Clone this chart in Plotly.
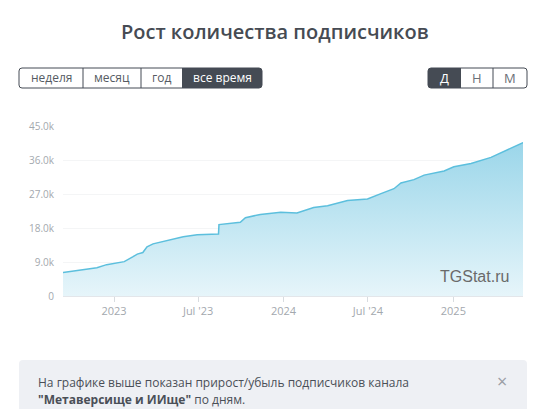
import plotly.graph_objects as go

# ---- data ----
dates = [
    "2022-09-13", "2022-11-25", "2022-12-16", "2023-01-14", "2023-01-23",
    "2023-02-11", "2023-02-20", "2023-03-04", "2023-03-13", "2023-03-26",
    "2023-04-17", "2023-05-30", "2023-06-29", "2023-08-14", "2023-08-15",
    "2023-09-30", "2023-10-11", "2023-11-12", "2023-12-26", "2024-01-30",
    "2024-03-06", "2024-04-05", "2024-05-18", "2024-06-30", "2024-07-29",
    "2024-08-26", "2024-09-10", "2024-10-08", "2024-10-30", "2024-12-12",
    "2025-01-02", "2025-02-08", "2025-03-23", "2025-04-20", "2025-05-31",
]
subscribers = [
    6200, 7500, 8300, 8800, 9100,
    10400, 11100, 11500, 13000, 13800,
    14400, 15700, 16200, 16400, 18900,
    19500, 20700, 21600, 22200, 22000,
    23400, 23900, 25300, 25700, 27100,
    28400, 29900, 30800, 32000, 33100,
    34200, 35100, 36700, 38200, 40600,
]
x_tick_vals = ["2023-01-01", "2023-07-01", "2024-01-01", "2024-07-01", "2025-01-01"]
x_tick_text = ["2023", "Jul '23", "2024", "Jul '24", "2025"]
y_tick_vals = [0, 9000, 18000, 27000, 36000, 45000]
y_tick_text = ["0", "9.0k", "18.0k", "27.0k", "36.0k", "45.0k"]
period_buttons = ["неделя", "месяц", "год", "все время"]
scale_buttons = ["Д", "Н", "М"]

# ---- layout geometry (pixels) ----
W, H = 541, 409
L, R, T, B = 63, 18, 126, 113
PW, PH = W - L - R, H - T - B
FONT = "Open Sans"


def px(x):
    return (x - L) / PW


def py(y):
    return (H - B - y) / PH


def rrect(x0, y0, x1, y1, r=3, tl=True, tr=True, br=True, bl=True):
    rx, ry = r / PW, r / PH
    X0, X1 = px(x0), px(x1)
    Y0, Y1 = py(y0), py(y1)  # Y0 top, Y1 bottom
    p = []
    p.append(f"M{X0 + (rx if tl else 0)},{Y0}")
    p.append(f"L{X1 - (rx if tr else 0)},{Y0}")
    if tr:
        p.append(f"Q{X1},{Y0} {X1},{Y0 - ry}")
    p.append(f"L{X1},{Y1 + (ry if br else 0)}")
    if br:
        p.append(f"Q{X1},{Y1} {X1 - rx},{Y1}")
    p.append(f"L{X0 + (rx if bl else 0)},{Y1}")
    if bl:
        p.append(f"Q{X0},{Y1} {X0},{Y1 + ry}")
    p.append(f"L{X0},{Y0 - (ry if tl else 0)}")
    if tl:
        p.append(f"Q{X0},{Y0} {X0 + rx},{Y0}")
    p.append("Z")
    return " ".join(p)


fig = go.Figure()
fig.add_trace(go.Scatter(
    x=dates, y=subscribers, mode="lines",
    line=dict(color="#5cbfdd", width=1.5),
    fill="tozeroy",
    fillgradient=dict(type="vertical",
                      colorscale=[[0, "#e6f5fa"], [1, "#98d5e9"]],
                      start=0, stop=42000),
    hoverinfo="skip", showlegend=False,
))

shapes = []
annotations = []

# title
annotations.append(dict(text="Рост количества подписчиков", x=px(275), y=py(31),
                        xref="paper", yref="paper", showarrow=False,
                        xanchor="center", yanchor="middle",
                        font=dict(family=FONT, size=20, color="#464b53", weight=600)))

# period buttons
edges = [19, 83, 141, 182, 262]
active = 3
for i, lab in enumerate(period_buttons):
    x0, x1 = edges[i], edges[i + 1]
    if i == active:
        shapes.append(dict(type="path", xref="paper", yref="paper",
                           path=rrect(x0, 68, x1, 88, 3, tl=False, bl=False),
                           fillcolor="#454b54", line=dict(width=0)))
    annotations.append(dict(text=lab, x=px((x0 + x1) / 2), y=py(78), xref="paper", yref="paper",
                            showarrow=False, xanchor="center", yanchor="middle",
                            font=dict(family=FONT, size=12,
                                      color="#ffffff" if i == active else "#555b63")))
shapes.append(dict(type="path", xref="paper", yref="paper", path=rrect(19, 68, 262, 88, 3),
                   fillcolor="rgba(0,0,0,0)", line=dict(color="#454b54", width=1)))
for e in edges[1:3]:
    shapes.append(dict(type="line", xref="paper", yref="paper", x0=px(e), x1=px(e),
                       y0=py(68), y1=py(88), line=dict(color="#454b54", width=1)))

# scale buttons
edges2 = [428, 461, 493, 527]
for i, lab in enumerate(scale_buttons):
    x0, x1 = edges2[i], edges2[i + 1]
    if i == 0:
        shapes.append(dict(type="path", xref="paper", yref="paper",
                           path=rrect(x0, 68, x1, 88, 3, tr=False, br=False),
                           fillcolor="#454b54", line=dict(width=0)))
    annotations.append(dict(text=lab, x=px((x0 + x1) / 2), y=py(78), xref="paper", yref="paper",
                            showarrow=False, xanchor="center", yanchor="middle",
                            font=dict(family=FONT, size=13,
                                      color="#ffffff" if i == 0 else "#6b7078")))
shapes.append(dict(type="path", xref="paper", yref="paper", path=rrect(428, 68, 527, 88, 3),
                   fillcolor="rgba(0,0,0,0)", line=dict(color="#454b54", width=1)))
for e in edges2[2:3]:
    shapes.append(dict(type="line", xref="paper", yref="paper", x0=px(e), x1=px(e),
                       y0=py(68), y1=py(88), line=dict(color="#454b54", width=1)))

# watermark
annotations.append(dict(text="TGStat.ru", x=px(511), y=py(276), xref="paper", yref="paper",
                        showarrow=False, xanchor="right", yanchor="middle",
                        font=dict(family="Liberation Sans", size=16, color="#6a6a6a")))

# info box
shapes.append(dict(type="path", xref="paper", yref="paper",
                   path=rrect(19, 360, 527, 412, 4, bl=False, br=False),
                   fillcolor="#eef0f4", line=dict(width=0), layer="below"))
annotations.append(dict(text="На графике выше показан прирост/убыль подписчиков канала",
                        x=px(36), y=py(382), xref="paper", yref="paper", showarrow=False,
                        xanchor="left", yanchor="middle",
                        font=dict(family=FONT, size=12, color="#4a4f57")))
annotations.append(dict(text='<b>"Метаверсище и ИИще"</b> по дням.',
                        x=px(36), y=py(399), xref="paper", yref="paper", showarrow=False,
                        xanchor="left", yanchor="middle",
                        font=dict(family=FONT, size=12, color="#4a4f57")))
annotations.append(dict(text="×", x=px(502), y=py(381), xref="paper", yref="paper",
                        showarrow=False, xanchor="center", yanchor="middle",
                        font=dict(family=FONT, size=18, color="#9a9ea5")))

fig.update_layout(
    width=W, height=H, autosize=False,
    margin=dict(l=L, r=R, t=T, b=B, pad=0),
    paper_bgcolor="#ffffff", plot_bgcolor="#ffffff",
    shapes=shapes, annotations=annotations,
    xaxis=dict(type="date", range=["2022-09-13", "2025-05-31"],
               tickvals=x_tick_vals, ticktext=x_tick_text,
               showgrid=False, zeroline=False,
               showline=True, linecolor="#e3e6ea", linewidth=1,
               ticks="outside", ticklen=5, tickcolor="#d8dce0",
               tickfont=dict(family=FONT, size=11, color="#a3a8ae"),
               fixedrange=True),
    yaxis=dict(range=[0, 45000], tickvals=y_tick_vals, ticktext=y_tick_text,
               showgrid=True, gridcolor="#f4f5f6", gridwidth=1, zeroline=False,
               showline=False, ticks="", ticklabelstandoff=8,
               tickfont=dict(family=FONT, size=10, color="#a3a8ae"),
               fixedrange=True),
)

fig.write_html("out.html", config={"displayModeBar": False},
               post_script="document.body.style.margin='0';")
